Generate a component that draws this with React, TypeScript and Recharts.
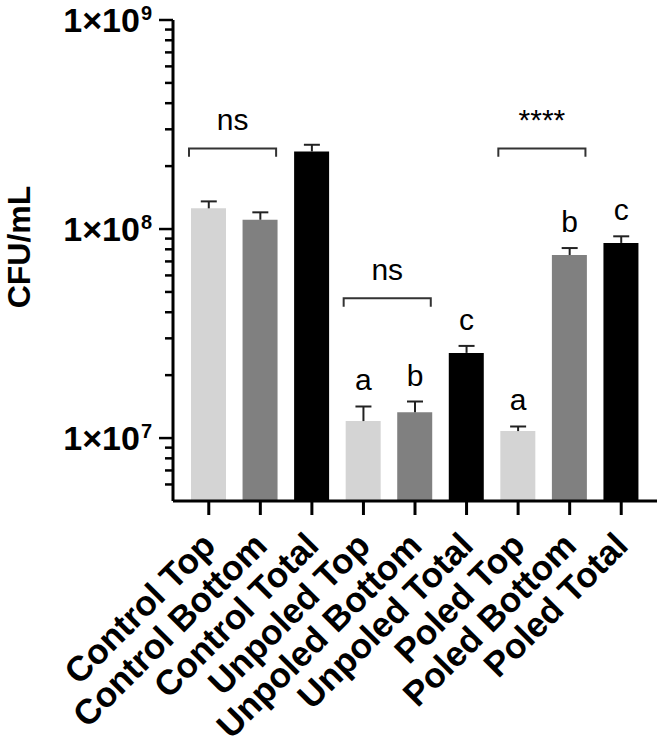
import { Bar, BarChart, Cell, ReferenceArea, ReferenceDot, ReferenceLine, XAxis, YAxis } from "recharts";

const groups = [
  "Control Top",
  "Control Bottom",
  "Control Total",
  "Unpoled Top",
  "Unpoled Bottom",
  "Unpoled Total",
  "Poled Top",
  "Poled Bottom",
  "Poled Total"
];
const means = [1.256e8, 1.108e8, 2.35e8, 1.206e7, 1.33e7, 2.556e7, 1.08e7, 7.51e7, 8.58e7];
const upperBounds = [1.356e8, 1.202e8, 2.53e8, 1.416e7, 1.496e7, 2.76e7, 1.136e7, 8.11e7, 9.23e7];
const letters = ["", "", "", "a", "b", "c", "a", "b", "c"];
const fills = ["#d4d4d4", "#808080", "#000000", "#d4d4d4", "#808080", "#000000", "#d4d4d4", "#808080", "#000000"];

const majorTicks = [1e7, 1e8, 1e9];
const minorTicks = [
  6e6, 7e6, 8e6, 9e6,
  2e7, 3e7, 4e7, 5e7, 6e7, 7e7, 8e7, 9e7,
  2e8, 3e8, 4e8, 5e8, 6e8, 7e8, 8e8, 9e8
];

const brackets = [
  { from: "Control Top", to: "Control Bottom", low: 2.22e8, high: 2.43e8, text: "ns" },
  { from: "Unpoled Top", to: "Unpoled Bottom", low: 4.25e7, high: 4.66e7, text: "ns" },
  { from: "Poled Top", to: "Poled Bottom", low: 2.22e8, high: 2.43e8, text: "****" }
];

const FONT = "Arial, 'Liberation Sans', sans-serif";

const data = groups.map((group, i) => ({ group, mean: means[i] }));

function YTick({ x, y, payload }: any) {
  const major = majorTicks.includes(payload.value);
  const exp = Math.round(Math.log10(payload.value));
  return (
    <g>
      <line x1={x - (major ? 14 : 8)} x2={x} y1={y} y2={y} stroke="#000" strokeWidth={2.5} />
      {major && (
        <text x={x - 21} y={y + 12} textAnchor="end" fontSize={34} fontWeight="bold" fontFamily={FONT} fill="#000">
          1×10
          <tspan dx={1} dy={-12} fontSize={20}>
            {exp}
          </tspan>
        </text>
      )}
    </g>
  );
}

function XTick({ x, y, payload }: any) {
  const ty = y + 24;
  return (
    <text
      x={x}
      y={ty}
      dy="0.35em"
      textAnchor="end"
      transform={`rotate(-45, ${x}, ${ty})`}
      fontSize={35}
      fontWeight="bold"
      fontFamily={FONT}
      fill="#000"
    >
      {payload.value}
    </text>
  );
}

// stem from bar top up to the mean + SEM, with a cap at the top only
function ErrorShape(props: any) {
  const { x1, y1, x2, y2 } = props;
  const top = Math.min(y1, y2);
  const bottom = Math.max(y1, y2);
  return (
    <g>
      <line x1={x1} x2={x2} y1={bottom} y2={top} stroke="#222" strokeWidth={2} />
      <line x1={x1 - 8} x2={x1 + 8} y1={top} y2={top} stroke="#222" strokeWidth={2} />
    </g>
  );
}

function bracketShape(text: string) {
  return (props: any) => {
    const { x, y, width, height } = props;
    const left = x + 6;
    const right = x + width - 10;
    return (
      <g>
        <path
          d={`M${left},${y + height} L${left},${y} L${right},${y} L${right},${y + height}`}
          fill="none"
          stroke="#333"
          strokeWidth={2}
        />
        <text x={(left + right) / 2} y={y - 18} textAnchor="middle" fontSize={30} fontFamily={FONT} fill="#000">
          {text}
        </text>
      </g>
    );
  };
}

export default function App() {
  return (
    <div style={{ position: "absolute", left: 0, top: 0, background: "#fff" }}>
      <BarChart width={662} height={750} data={data} margin={{ top: 20, right: 5, bottom: 0, left: 0 }}>
        <XAxis
          dataKey="group"
          interval={0}
          padding={{ left: 10, right: 10 }}
          height={249}
          tickSize={14}
          tickMargin={0}
          axisLine={{ stroke: "#000", strokeWidth: 3 }}
          tickLine={{ stroke: "#000", strokeWidth: 3 }}
          tick={<XTick />}
        />
        <YAxis
          type="number"
          scale="log"
          domain={[5e6, 1e9]}
          allowDataOverflow
          ticks={[...minorTicks, ...majorTicks]}
          interval={0}
          width={173}
          tickSize={0}
          tickMargin={0}
          tickLine={false}
          axisLine={{ stroke: "#000", strokeWidth: 3 }}
          tick={<YTick />}
          label={{
            content: () => (
              <text
                x={30}
                y={247}
                transform="rotate(-90, 30, 247)"
                textAnchor="middle"
                fontSize={32}
                fontWeight="bold"
                fontFamily={FONT}
                fill="#000"
              >
                CFU/mL
              </text>
            )
          }}
        />
        <Bar dataKey="mean" barSize={35} isAnimationActive={false}>
          {data.map((d, i) => (
            <Cell key={d.group} fill={fills[i]} />
          ))}
        </Bar>
        {groups.map((g, i) => (
          <ReferenceLine
            key={`err-${g}`}
            segment={[
              { x: g, y: means[i] },
              { x: g, y: upperBounds[i] }
            ]}
            shape={ErrorShape}
          />
        ))}
        {brackets.map((b) => (
          <ReferenceArea key={b.from} x1={b.from} x2={b.to} y1={b.low} y2={b.high} shape={bracketShape(b.text)} />
        ))}
        {groups.map((g, i) =>
          letters[i] ? (
            <ReferenceDot
              key={g}
              x={g}
              y={upperBounds[i]}
              r={0}
              fill="none"
              stroke="none"
              label={{ value: letters[i], position: "top", offset: 16, fontSize: 30, fontFamily: FONT, fill: "#000" }}
            />
          ) : null
        )}
      </BarChart>
    </div>
  );
}
